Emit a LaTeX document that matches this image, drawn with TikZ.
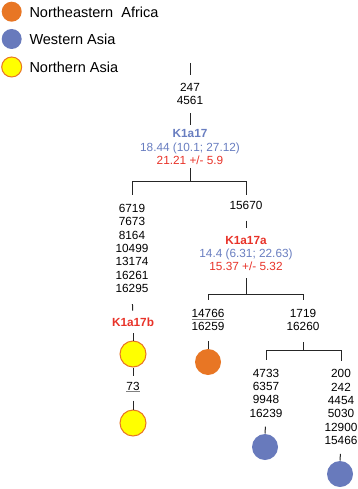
\documentclass[tikz,border=0pt]{standalone}
\usepackage{fontspec}
\setmainfont{Liberation Sans}
\definecolor{nafr}{RGB}{232,118,36}
\definecolor{wasia}{RGB}{104,122,188}
\definecolor{nasia}{RGB}{255,255,0}
\definecolor{hgred}{RGB}{232,50,40}
\definecolor{hgblue}{RGB}{104,125,192}
\newcommand{\ul}[1]{{\color{gray}\underline{\color{black}#1}}}
\begin{document}
\begin{tikzpicture}[x=1pt, y=-1pt, line width=1pt, draw=black!85,
  lbl/.style={font=\fontsize{11.8}{13.3}\selectfont, align=center, inner sep=0pt},
  key/.style={font=\fontsize{14.5}{16}\selectfont, anchor=west, inner sep=0pt},
  hap/.style={circle, minimum size=26pt, inner sep=0pt},
  dot/.style={circle, minimum size=20pt, inner sep=0pt},
  nam/.style={font=\fontsize{11.8}{13.3}\selectfont\bfseries}]
  \useasboundingbox (0,0) rectangle (358,489);
  \node[dot, fill=nafr] (lnafr) at (11.7,11.7) {};
  \node[dot, fill=wasia] (lwasia) at (11.7,39) {};
  \node[dot, fill=nasia, draw=nafr] (lnasia) at (11.7,67) {};
  \node[key] (tnafr) at (29,12) {Northeastern\ \ Africa};
  \node[key] (twasia) at (29,39.5) {Western Asia};
  \node[key] (tnasia) at (29,67.5) {Northern Asia};
  \coordinate (root) at (190,63);
  \node[lbl] (m247) at (190,94) {247\\4561};
  \node[lbl] (k17) at (190,147)
    {\textcolor{hgblue}{\bfseries K1a17}\\\textcolor{hgblue}{18.44 (10.1; 27.12)}\\\textcolor{hgred}{21.21 +/- 5.9}};
  \coordinate (b1) at (190,181);
  \node[lbl] (m6719) at (132,248.5) {6719\\7673\\8164\\10499\\13174\\16261\\16295};
  \node[lbl] (m15670) at (246,205) {15670};
  \node[lbl] (k17a) at (246,253.5)
    {\textcolor{hgred}{\bfseries K1a17a}\\\textcolor{hgblue}{14.4 (6.31; 22.63)}\\\textcolor{hgred}{15.37 +/- 5.32}};
  \coordinate (b2) at (246,294);
  \node[lbl] (m14766) at (208,320) {\ul{14766}\\16259};
  \node[lbl] (m1719) at (303,320) {1719\\16260};
  \node[hap, fill=nafr] (cnafr) at (208,362) {};
  \coordinate (b3) at (303,350);
  \node[lbl] (m4733) at (266,393) {4733\\6357\\9948\\16239};
  \node[lbl] (m200) at (341,407) {200\\242\\4454\\5030\\12900\\15466};
  \node[hap, fill=wasia] (cwa1) at (265,447) {};
  \node[hap, fill=wasia] (cwa2) at (340,474) {};
  \node[lbl, text=hgred, nam] (k17b) at (133,322) {K1a17b};
  \node[hap, fill=nasia, draw=nafr] (cna1) at (133,354) {};
  \node[lbl] (m73) at (133,387) {\ul{73}};
  \node[hap, fill=nasia, draw=nafr] (cna2) at (133,423) {};
  \draw[shorten >=8pt] (root) -- (m247.north);
  \draw[shorten <=8pt, shorten >=4.5pt] (m247.south) -- (k17.north);
  \draw[shorten <=3pt] (k17.south) -- (b1);
  \draw[shorten >=9pt] (b1) -| (m6719.north);
  \draw[shorten >=5pt] (b1) -| (m15670.north);
  \draw[shorten <=11pt, shorten >=7.5pt] (m15670.south) -- (k17a.north);
  \draw[shorten <=7pt] (k17a.south) -- (b2);
  \draw[shorten >=8.5pt] (b2) -| (m14766.north);
  \draw[shorten >=8.5pt] (b2) -| (m1719.north);
  \draw[shorten <=10pt] (m14766.south) -- (cnafr.north);
  \draw[shorten <=11pt] (m1719.south) -- (b3);
  \draw[shorten >=8.5pt] (b3) -| (m4733.north);
  \draw[shorten >=8.5pt] (b3) -| (m200.north);
  \draw[shorten <=9pt] (m4733.south) -- (cwa1.north);
  \draw[shorten <=9pt] (m200.south) -- (cwa2.north);
  \draw[shorten <=11pt, shorten >=6.5pt] (m6719.south) -- (k17b.north);
  \draw[shorten <=6.5pt] (k17b.south) -- (cna1.north);
  \draw[shorten >=5.5pt] (cna1.south) -- (m73.north);
  \draw[shorten <=8pt] (m73.south) -- (cna2.north);
\end{tikzpicture}
\end{document}
